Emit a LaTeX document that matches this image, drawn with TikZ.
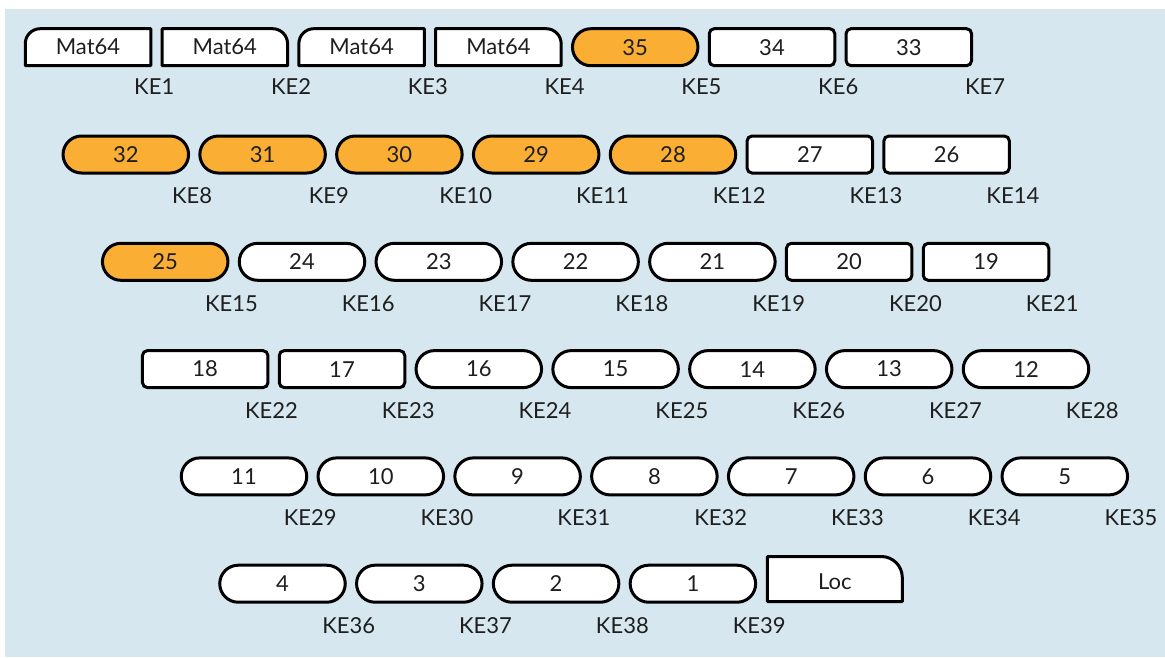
\documentclass[tikz,border=0pt]{standalone}
\usepackage{fontspec}
\setmainfont{Lato}
\usetikzlibrary{shapes.misc,calc}
\pgfdeclarelayer{bg}
\pgfsetlayers{bg,main}
\definecolor{panel}{RGB}{215,231,240}
\definecolor{hot}{RGB}{250,174,52}
\definecolor{ink}{RGB}{30,30,30}

\tikzset{
  cell/.style={minimum width=125.5pt, minimum height=37pt, inner sep=0pt,
    outer sep=0pt, line width=3pt, font=\fontsize{22}{26}\selectfont, text=ink},
  pill/.style={cell, rounded rectangle, draw=black, fill=white},
  hotpill/.style={pill, fill=hot},
  tab/.style={cell, rectangle, draw=black, fill=white, rounded corners=5pt},
  bare/.style={cell, rectangle},
  outline/.style={line width=3pt, draw=black, fill=white, line join=round},
  kelabel/.style={font=\fontsize{22}{26}\selectfont, inner sep=0pt, text=ink},
}

\begin{document}
\begin{tikzpicture}[x=1pt, y=-1pt]
\useasboundingbox (0,0) rectangle (1165,657);
\begin{pgfonlayer}{bg}
  \fill[panel] (5,9) rectangle (1165,657);
\end{pgfonlayer}

% ---- row 1
\node[bare] (m1) at (88,47.2) {Mat64};
\node[bare] (m2) at (224.8,47.2) {Mat64};
\node[bare] (m3) at (361.6,47.2) {Mat64};
\node[bare] (m4) at (498.4,47.2) {Mat64};
\node[hotpill] (b35) at (635.2,47.2) {35};
\node[tab] (b34) at (772,47.2) {34};
\node[tab] (b33) at (908.8,47.2) {33};

\begin{pgfonlayer}{bg}
  \draw[outline] (m1.south east) -- (m1.south west) -- ([yshift=-15pt]m1.north west)
    arc[start angle=180, end angle=90, radius=15pt] -- (m1.north east) -- cycle;
  \draw[outline] (m2.south west) -- (m2.north west) -- ([xshift=-15pt]m2.north east)
    arc[start angle=90, end angle=0, radius=15pt] -- (m2.south east) -- cycle;
  \draw[outline] (m3.south east) -- (m3.south west) -- ([yshift=-15pt]m3.north west)
    arc[start angle=180, end angle=90, radius=15pt] -- (m3.north east) -- cycle;
  \draw[outline] (m4.south west) -- (m4.north west) -- ([xshift=-15pt]m4.north east)
    arc[start angle=90, end angle=0, radius=15pt] -- (m4.south east) -- cycle;
\end{pgfonlayer}

\node[kelabel] (ke1) at ($(m1.east)+(3.5,39.5)$) {KE1};
\node[kelabel] (ke2) at ($(m2.east)+(3.5,39.5)$) {KE2};
\node[kelabel] (ke3) at ($(m3.east)+(3.5,39.5)$) {KE3};
\node[kelabel] (ke4) at ($(m4.east)+(3.5,39.5)$) {KE4};
\node[kelabel] (ke5) at ($(b35.east)+(3.5,39.5)$) {KE5};
\node[kelabel] (ke6) at ($(b34.east)+(3.5,39.5)$) {KE6};
\node[kelabel] (ke7) at ($(b33.east)+(13.5,39.5)$) {KE7};

% ---- row 2
\node[hotpill] (b32) at (125.8,154.5) {32};
\node[hotpill] (b31) at (262.6,154.5) {31};
\node[hotpill] (b30) at (399.4,154.5) {30};
\node[hotpill] (b29) at (536.2,154.5) {29};
\node[hotpill] (b28) at (673,154.5) {28};
\node[tab] (b27) at (809.8,154.5) {27};
\node[tab] (b26) at (946.6,154.5) {26};
\foreach \b/\k in {32/8,31/9,30/10,29/11,28/12,27/13,26/14}
  \node[kelabel] (ke\k) at ($(b\b.east)+(3.5,41.5)$) {KE\k};

% ---- row 3
\node[hotpill] (b25) at (165.2,261.8) {25};
\node[pill] (b24) at (302,261.8) {24};
\node[pill] (b23) at (438.8,261.8) {23};
\node[pill] (b22) at (575.6,261.8) {22};
\node[pill] (b21) at (712.4,261.8) {21};
\node[tab] (b20) at (849.2,261.8) {20};
\node[tab] (b19) at (986,261.8) {19};
\foreach \b/\k in {25/15,24/16,23/17,22/18,21/19,20/20,19/21}
  \node[kelabel] (ke\k) at ($(b\b.east)+(3.5,41.5)$) {KE\k};

% ---- row 4
\node[tab] (b18) at (205.2,369.1) {18};
\node[tab] (b17) at (342,369.1) {17};
\node[pill] (b16) at (478.8,369.1) {16};
\node[pill] (b15) at (615.6,369.1) {15};
\node[pill] (b14) at (752.4,369.1) {14};
\node[pill] (b13) at (889.2,369.1) {13};
\node[pill] (b12) at (1026,369.1) {12};
\foreach \b/\k in {18/22,17/23,16/24,15/25,14/26,13/27,12/28}
  \node[kelabel] (ke\k) at ($(b\b.east)+(3.5,41.5)$) {KE\k};

% ---- row 5
\node[pill] (b11) at (244,476.4) {11};
\node[pill] (b10) at (380.8,476.4) {10};
\node[pill] (b9) at (517.6,476.4) {9};
\node[pill] (b8) at (654.4,476.4) {8};
\node[pill] (b7) at (791.2,476.4) {7};
\node[pill] (b6) at (928,476.4) {6};
\node[pill] (b5) at (1064.8,476.4) {5};
\foreach \b/\k in {11/29,10/30,9/31,8/32,7/33,6/34,5/35}
  \node[kelabel] (ke\k) at ($(b\b.east)+(3.5,41.5)$) {KE\k};

% ---- row 6
\node[pill] (b4) at (282.5,583.7) {4};
\node[pill] (b3) at (419.3,583.7) {3};
\node[pill] (b2) at (556.1,583.7) {2};
\node[pill] (b1) at (692.9,583.7) {1};
\node[bare, minimum width=135pt, minimum height=45pt, text height=22pt] (loc) at (834.8,579) {Loc};
\begin{pgfonlayer}{bg}
  \draw[outline] (loc.south west) -- (loc.north west) -- ([xshift=-21pt]loc.north east)
    arc[start angle=90, end angle=0, radius=21pt] -- (loc.south east) -- cycle;
\end{pgfonlayer}
\foreach \b/\k in {4/36,3/37,2/38,1/39}
  \node[kelabel] (ke\k) at ($(b\b.east)+(3.5,41.5)$) {KE\k};
\end{tikzpicture}
\end{document}
